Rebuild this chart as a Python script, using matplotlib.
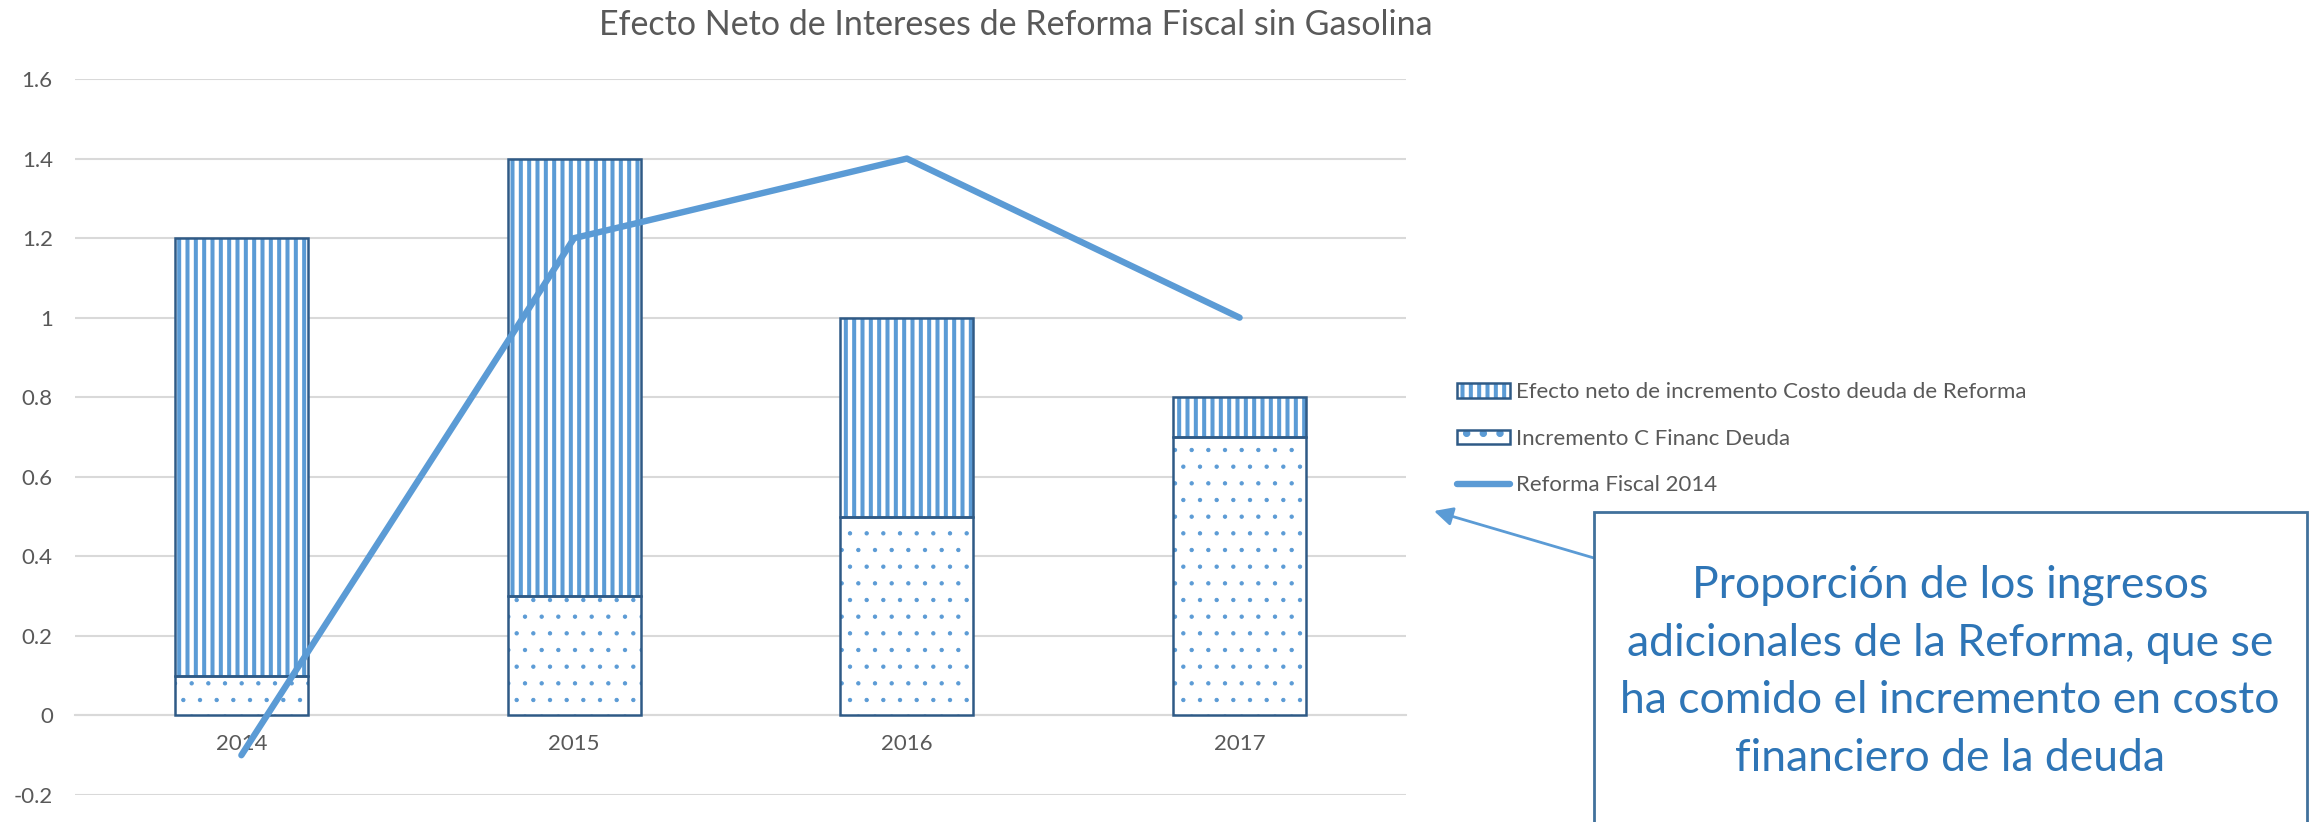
import matplotlib
matplotlib.use('Agg')
import matplotlib.pyplot as plt
from matplotlib.patches import Patch, Rectangle
from matplotlib.lines import Line2D
from matplotlib.legend_handler import HandlerTuple
import numpy as np

plt.rcParams['font.family'] = ['Lato', 'DejaVu Sans']
plt.rcParams['hatch.linewidth'] = 2.9

# data
years = ['2014', '2015', '2016', '2017']
incremento_financ = [0.1, 0.3, 0.5, 0.7]
efecto_neto = [1.1, 1.1, 0.5, 0.1]
reforma_2014 = [-0.1, 1.2, 1.4, 1.0]

label_efecto = 'Efecto neto de incremento Costo deuda de Reforma'
label_incr = 'Incremento C Financ Deuda'
label_reforma = 'Reforma Fiscal 2014'
title = 'Efecto Neto de Intereses de Reforma Fiscal sin Gasolina'
note_lines = ['Proporción de los ingresos',
              'adicionales de la Reforma, que se',
              'ha comido el incremento en costo',
              'financiero de la deuda']

BLUE = '#5B9BD5'
EDGE = '#2F5A86'
GRID = '#D9D9D9'
TXT = '#595959'
DOT_LW = 0.7

W, H = 2309, 822
fig = plt.figure(figsize=(W / 100, H / 100), dpi=100)
fig.patch.set_facecolor('white')
ax = fig.add_axes([75 / W, 27 / H, 1331 / W, 716 / H])

x = np.arange(len(years))
bw = 0.4

# hatched fills (hatch takes the edge colour), then dark outlines on top
with plt.rc_context({'hatch.linewidth': DOT_LW}):
    b1 = ax.bar(x, incremento_financ, bw, color='white', edgecolor=BLUE, lw=0, hatch='.', zorder=2)
    h_in_fill = Patch(facecolor='white', edgecolor=BLUE, lw=0, hatch='.')
b2 = ax.bar(x, efecto_neto, bw, bottom=incremento_financ, color='white', edgecolor=BLUE,
            lw=0, hatch='||', zorder=2)
ax.bar(x, incremento_financ, bw, fill=False, edgecolor=EDGE, lw=1.8, zorder=3)
ax.bar(x, efecto_neto, bw, bottom=incremento_financ, fill=False, edgecolor=EDGE, lw=1.8, zorder=3)

for p in list(b1) + [h_in_fill]:
    if hasattr(p, 'set_hatch_linewidth'):
        p.set_hatch_linewidth(DOT_LW)

ln, = ax.plot(x, reforma_2014, color=BLUE, lw=4.6, solid_capstyle='round',
              solid_joinstyle='round', zorder=4)

ax.set_xlim(-0.5, 3.5)
ax.set_ylim(-0.2, 1.6)
ax.set_yticks(np.arange(-0.2, 1.61, 0.2))
ax.set_yticklabels(['-0.2', '0', '0.2', '0.4', '0.6', '0.8', '1', '1.2', '1.4', '1.6'])
ax.set_xticks(x)
ax.set_xticklabels(years)
ax.grid(axis='y', color=GRID, lw=1.5, zorder=0)
ax.set_axisbelow(True)
for s in ['top', 'right', 'left']:
    ax.spines[s].set_visible(False)
ax.spines['bottom'].set_position(('data', 0))
ax.spines['bottom'].set_color(GRID)
ax.spines['bottom'].set_linewidth(1.5)
ax.spines['bottom'].set_zorder(1)
ax.tick_params(axis='both', length=0, labelsize=16, colors=TXT)
ax.tick_params(axis='y', pad=16)
ax.tick_params(axis='x', pad=13)

fig.text(1016 / W, 1 - 25 / H, title, fontsize=24.5, color=TXT, ha='center', va='center')

# legend
h_ef = (Patch(facecolor='white', edgecolor=BLUE, lw=0, hatch='||'),
        Patch(fill=False, edgecolor=EDGE, lw=1.8))
h_in = (h_in_fill, Patch(fill=False, edgecolor=EDGE, lw=1.8))
h_rf = Line2D([], [], color=BLUE, lw=4.6, solid_capstyle='round')
fig.legend([h_ef, h_in, h_rf], [label_efecto, label_incr, label_reforma],
           handler_map={tuple: HandlerTuple(ndivide=1, pad=0)},
           loc='upper left', bbox_to_anchor=(1446 / W, 1 - 371 / H),
           frameon=False, fontsize=16, labelcolor=TXT, handlelength=2.4,
           handleheight=0.65, handletextpad=0.25, labelspacing=1.2, borderpad=0)

# note box and arrow
fig.patches.append(Rectangle((1594 / W, -0.1), (2307 - 1594) / W, 0.1 + 1 - 512 / H,
                             transform=fig.transFigure, facecolor='white',
                             edgecolor='#41719C', lw=2, zorder=5))
for i, line in enumerate(note_lines):
    fig.text(1950 / W, 1 - (598 + i * 57.7) / H, line, fontsize=32, color='#2E75B6',
             ha='center', va='baseline', zorder=6)

ax.annotate('', xy=(1434 / W, 1 - 511 / H), xycoords='figure fraction',
            xytext=(1594 / W, 1 - 558 / H), textcoords='figure fraction',
            arrowprops=dict(arrowstyle='-|>', color=BLUE, lw=2, mutation_scale=28,
                            shrinkA=0, shrinkB=0))

fig.savefig('out.png', dpi=100, facecolor='white')
